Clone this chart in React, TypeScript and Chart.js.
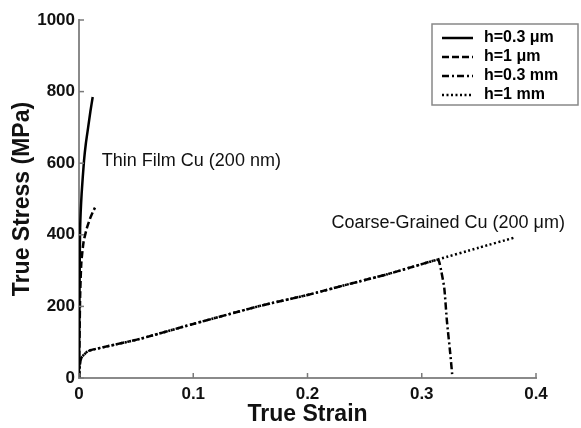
import React, { useEffect, useRef } from "react";
import { Chart, registerables } from "chart.js";

Chart.register(...registerables);

// ---- data ----
const thin03Strain = [0, 0.0003, 0.0006, 0.001, 0.0023, 0.0044, 0.006, 0.008, 0.010, 0.012];
const thin03Stress = [0, 150, 300, 420, 515, 607, 655, 700, 745, 785];

const thin1Strain = [0, 0.0005, 0.001, 0.002, 0.004, 0.007, 0.010, 0.012, 0.014];
const thin1Stress = [0, 120, 230, 320, 380, 420, 448, 463, 476];

const coarse03Strain = [0, 0.0005, 0.002, 0.008, 0.02, 0.053, 0.1, 0.158, 0.2, 0.237, 0.27, 0.3, 0.313, 0.315, 0.317, 0.3197, 0.322, 0.325, 0.3266];
const coarse03Stress = [0, 30, 56, 75, 85, 109, 151, 201, 232, 263, 290, 318, 330, 327, 300, 252, 160, 67, 11];

const coarse1Strain = [0, 0.0005, 0.002, 0.008, 0.02, 0.053, 0.1, 0.158, 0.2, 0.237, 0.27, 0.3, 0.313, 0.35, 0.382];
const coarse1Stress = [0, 30, 56, 75, 85, 109, 151, 201, 232, 263, 290, 318, 330, 364, 393];

const seriesLabels = ["h=0.3 \u03bcm", "h=1 \u03bcm", "h=0.3 mm", "h=1 mm"];
const seriesDash: number[][] = [[], [7, 3], [7, 3, 2, 3], [2, 2.5]];
const xTicks = [0, 0.1, 0.2, 0.3, 0.4];
const yTicks = [0, 200, 400, 600, 800, 1000];

const annotations = [
  { text: "Thin Film Cu (200 nm)", x: 0.02, y: 605 },
  { text: "Coarse-Grained Cu (200 \u03bcm)", x: 0.221, y: 433 },
];

const zip = (xs: number[], ys: number[]) => xs.map((x, i) => ({ x, y: ys[i] }));

export default function App() {
  const ref = useRef<HTMLCanvasElement | null>(null);

  useEffect(() => {
    if (!ref.current) return;
    const pairs = [
      zip(thin03Strain, thin03Stress),
      zip(thin1Strain, thin1Stress),
      zip(coarse03Strain, coarse03Stress),
      zip(coarse1Strain, coarse1Stress),
    ];

    const overlay = {
      id: "overlay",
      afterDraw(chart: any) {
        const ctx = chart.ctx as CanvasRenderingContext2D;
        const xs = chart.scales.x;
        const ys = chart.scales.y;
        const area = chart.chartArea;
        ctx.save();
        // inside ticks
        ctx.strokeStyle = "#7a7a7a";
        ctx.lineWidth = 1.5;
        xTicks.forEach((t) => {
          const px = xs.getPixelForValue(t);
          ctx.beginPath();
          ctx.moveTo(px, area.bottom);
          ctx.lineTo(px, area.bottom - 5);
          ctx.stroke();
        });
        yTicks.forEach((t) => {
          const py = ys.getPixelForValue(t);
          ctx.beginPath();
          ctx.moveTo(area.left, py);
          ctx.lineTo(area.left + 5, py);
          ctx.stroke();
        });
        // annotations
        ctx.fillStyle = "#111";
        ctx.font = "18px 'Liberation Sans', Arial, sans-serif";
        ctx.textBaseline = "middle";
        ctx.textAlign = "left";
        annotations.forEach((a) => {
          ctx.fillText(a.text, xs.getPixelForValue(a.x), ys.getPixelForValue(a.y));
        });
        // legend box
        const bx = area.right - 104;
        const by = area.top + 4;
        const bw = 146;
        const bh = 81;
        ctx.fillStyle = "#fff";
        ctx.fillRect(bx, by, bw, bh);
        ctx.strokeStyle = "#888";
        ctx.lineWidth = 1.5;
        ctx.strokeRect(bx, by, bw, bh);
        ctx.font = "bold 16px 'Liberation Sans', Arial, sans-serif";
        seriesLabels.forEach((lab, i) => {
          const yy = by + 14 + i * 19;
          ctx.strokeStyle = "#000";
          ctx.lineWidth = 2.5;
          ctx.setLineDash(seriesDash[i]);
          ctx.beginPath();
          ctx.moveTo(bx + 10, yy);
          ctx.lineTo(bx + 41, yy);
          ctx.stroke();
          ctx.setLineDash([]);
          ctx.fillStyle = "#000";
          ctx.fillText(lab, bx + 52, yy);
        });
        ctx.restore();
      },
    };

    const chart = new Chart(ref.current, {
      type: "line",
      data: {
        datasets: pairs.map((d, i) => ({
          label: seriesLabels[i],
          data: d,
          borderColor: "#000",
          borderWidth: 2.5,
          borderDash: seriesDash[i],
          pointRadius: 0,
          fill: false,
          tension: 0.2,
        })),
      },
      options: {
        responsive: false,
        animation: false,
        layout: { padding: { top: 20, right: 45, left: 0, bottom: 0 } },
        plugins: { legend: { display: false }, tooltip: { enabled: false } },
        scales: {
          x: {
            type: "linear",
            min: 0,
            max: 0.4,
            afterFit: (s: any) => { s.height = 50; },
            afterBuildTicks: (s: any) => { s.ticks = xTicks.map((v) => ({ value: v })); },
            grid: { display: false, drawTicks: false },
            border: { display: true, color: "#8a8a8a", width: 2 },
            ticks: {
              padding: 6,
              color: "#111",
              font: { family: "'Liberation Sans', Arial, sans-serif", size: 17, weight: "bold" },
              callback: (v: any) => String(Math.round(Number(v) * 10) / 10),
            },
            title: {
              display: true,
              text: "True Strain",
              color: "#111",
              padding: { top: 7, bottom: 0 },
              font: { family: "'Liberation Sans', Arial, sans-serif", size: 23, weight: "bold" },
            },
          },
          y: {
            min: 0,
            max: 1000,
            afterFit: (s: any) => { s.width = 79; },
            afterBuildTicks: (s: any) => { s.ticks = yTicks.map((v) => ({ value: v })); },
            grid: { display: false, drawTicks: false },
            border: { display: true, color: "#8a8a8a", width: 2 },
            ticks: {
              padding: 4,
              color: "#111",
              font: { family: "'Liberation Sans', Arial, sans-serif", size: 17, weight: "bold" },
              callback: (v: any) => String(v),
            },
            title: {
              display: true,
              text: "True Stress (MPa)",
              color: "#111",
              padding: { top: 9, bottom: 0 },
              font: { family: "'Liberation Sans', Arial, sans-serif", size: 23, weight: "bold" },
            },
          },
        },
      },
      plugins: [overlay],
    } as any);
    return () => chart.destroy();
  }, []);

  return (
    <div style={{ position: "absolute", left: 0, top: 0, width: 581, height: 428, background: "#fff" }}>
      <canvas ref={ref} width={581} height={428} />
    </div>
  );
}
